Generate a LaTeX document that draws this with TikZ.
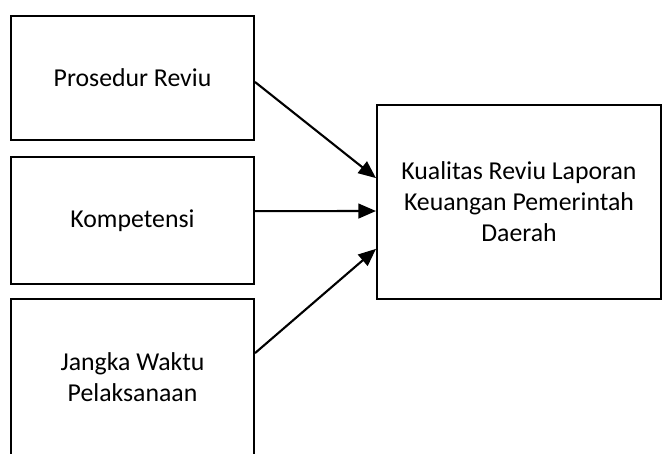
\documentclass[tikz,border=0pt]{standalone}
\usepackage{fontspec}
\setmainfont{Carlito}
\usetikzlibrary{arrows.meta, positioning}
\tikzset{
  every picture/.style={line width=1.7pt},
  box/.style={draw=black, fill=white, align=center, inner sep=4pt, font=\fontsize{22}{26.5}\selectfont},
  arrow/.style={-{Triangle[length=15pt, width=12.5pt]}, draw=black, line width=1.8pt},
}
\begin{document}
\begin{tikzpicture}[x=0.03cm, y=-0.03cm]
  \useasboundingbox (0,0) rectangle (662,454);
  \clip (0,0) rectangle (662,454);
  % left column: the three factors
  \node[box, minimum height=124*0.03cm, minimum width=243*0.03cm] (prosedur) at (132.5,78) {Prosedur Reviu};
  \node[box, minimum height=127*0.03cm, minimum width=243*0.03cm] (kompetensi) at (132.5,220.5) {Kompetensi};
  \node[box, minimum height=157*0.03cm, minimum width=243*0.03cm] (jangka) at (132.5,377.5) {Jangka Waktu\\Pelaksanaan};
  % right: the outcome
  \node[box, minimum height=194*0.03cm, minimum width=284*0.03cm] (kualitas) at (519,202) {Kualitas Reviu Laporan\\Keuangan Pemerintah\\Daerah};
  \draw[arrow] ([yshift=-3.4pt]prosedur.east) -- ([yshift=20.4pt]kualitas.west);
  \draw[arrow] ([yshift=8pt]kompetensi.east) -- ([yshift=-7.7pt]kualitas.west);
  \draw[arrow] ([yshift=20.8pt]jangka.east) -- ([yshift=-40pt]kualitas.west);
\end{tikzpicture}
\end{document}
